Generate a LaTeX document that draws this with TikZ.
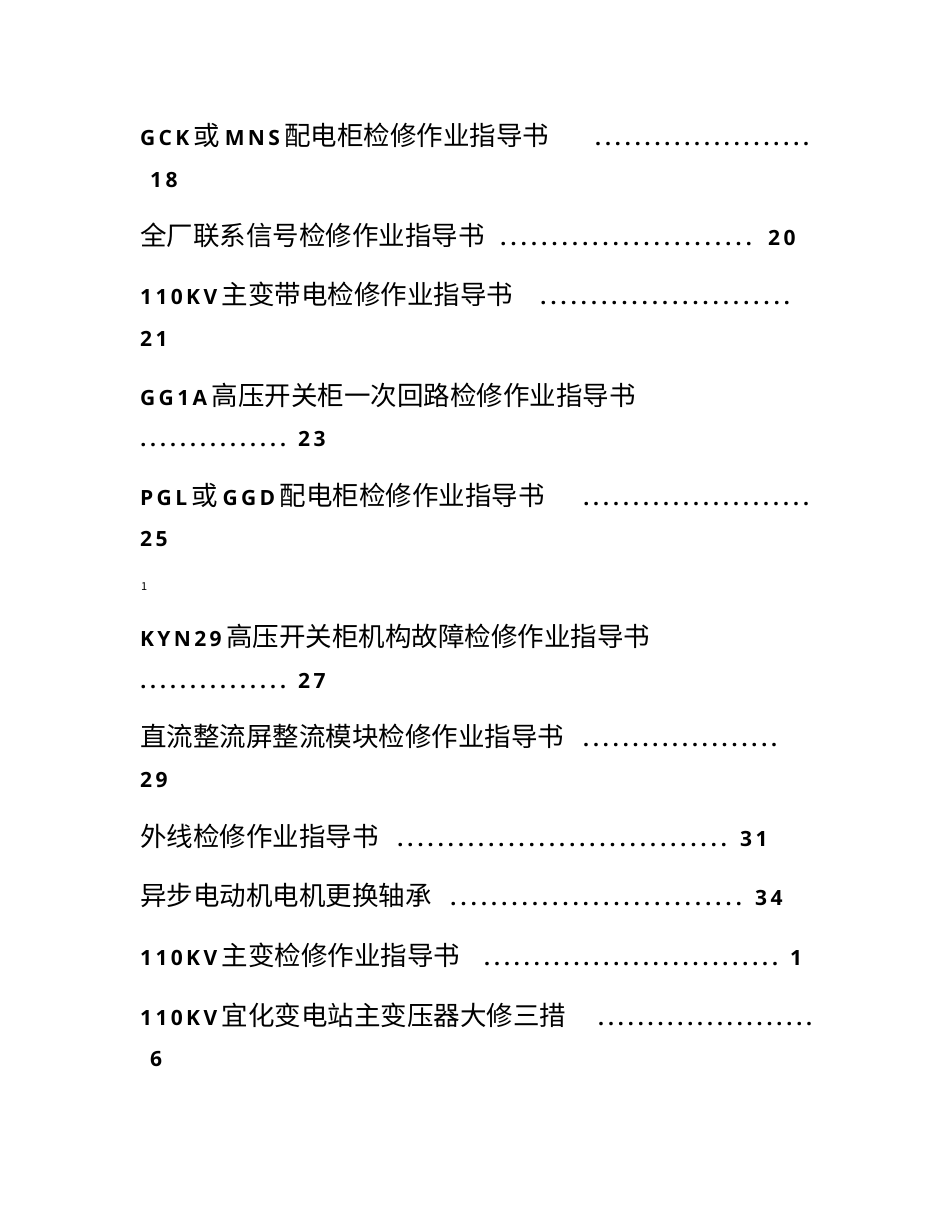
\documentclass[tikz,border=0pt]{standalone}
\usepackage{fontspec}
\setmainfont{Noto Sans CJK SC}
\newfontfamily\lat[LetterSpace=16]{Open Sans}
\newcommand{\LT}[1]{{\fontsize{21}{25}\lat\bfseries #1}}
\newcommand{\dotsto}[1]{\hbox to #1pt{\xleaders\hbox to 9.9pt{\hss\fontsize{21}{25}\lat\bfseries.\hss}\hfill}}
\tikzset{txt/.style={anchor=base west,inner sep=0pt,font=\fontsize{26.5}{30}\selectfont}}
\begin{document}
\begin{tikzpicture}[x=1pt,y=1pt]
\useasboundingbox[fill=white] (0,0) rectangle (950,-1230);
% row 1
\node[txt] (t1) at (140,-146) {\LT{GCK}\,或\,\LT{MNS}\,配电柜检修作业指导书};
\node[txt] (d1) at (593,-146) {\dotsto{218}};
\node[txt] (n1) at (150,-188) {\LT{18}};
% row 2
\node[txt] (t2) at (140,-246) {全厂联系信号检修作业指导书};
\node[txt] (d2) at (498,-246) {\dotsto{256}};
\node[txt] (n2) at (768,-246) {\LT{20}};
% row 3
\node[txt] (t3) at (140,-305) {\LT{110KV}\,主变带电检修作业指导书};
\node[txt] (d3) at (538,-305) {\dotsto{254}};
\node[txt] (n3) at (140,-346) {\LT{21}};
% row 4
\node[txt] (t4) at (140,-405) {\LT{GG1A}\,高压开关柜一次回路检修作业指导书};
\node[txt] (d4) at (138,-446) {\dotsto{150}};
\node[txt] (n4) at (298,-446) {\LT{23}};
% row 5
\node[txt] (t5) at (140,-505) {\LT{PGL}\,或\,\LT{GGD}\,配电柜检修作业指导书};
\node[txt] (d5) at (581,-505) {\dotsto{230}};
\node[txt] (n5) at (140,-546) {\LT{25}};
% page number
\node[anchor=base west,inner sep=0pt,font=\fontsize{11}{13}\selectfont] (p) at (141,-590) {1};
% row 7
\node[txt] (t7) at (140,-646) {\LT{KYN29}\,高压开关柜机构故障检修作业指导书};
\node[txt] (d7) at (138,-688) {\dotsto{150}};
\node[txt] (n7) at (298,-688) {\LT{27}};
% row 8
\node[txt] (t8) at (140,-746) {直流整流屏整流模块检修作业指导书};
\node[txt] (d8) at (581,-746) {\dotsto{198}};
\node[txt] (n8) at (140,-787) {\LT{29}};
% row 9
\node[txt] (t9) at (140,-846) {外线检修作业指导书};
\node[txt] (d9) at (395,-846) {\dotsto{334}};
\node[txt] (n9) at (740,-846) {\LT{31}};
% row 10
\node[txt] (t10) at (140,-905) {异步电动机电机更换轴承};
\node[txt] (d10) at (448,-905) {\dotsto{296}};
\node[txt] (n10) at (755,-905) {\LT{34}};
% row 11
\node[txt] (t11) at (140,-965) {\LT{110KV}\,主变检修作业指导书};
\node[txt] (d11) at (482,-965) {\dotsto{298}};
\node[txt] (n11) at (790,-965) {\LT{1}};
% row 12
\node[txt] (t12) at (140,-1025) {\LT{110KV}\,宜化变电站主变压器大修三措};
\node[txt] (d12) at (596,-1025) {\dotsto{218}};
\node[txt] (n12) at (150,-1066) {\LT{6}};
\end{tikzpicture}
\end{document}
